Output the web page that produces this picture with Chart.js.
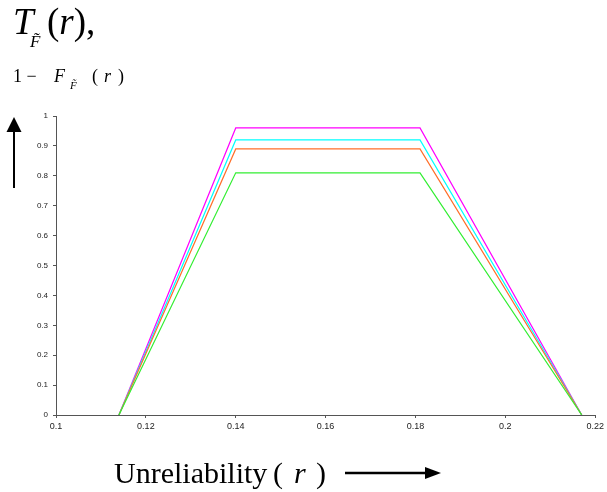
<!DOCTYPE html>
<html>
<head>
<meta charset="utf-8">
<script src="https://cdn.jsdelivr.net/npm/chart.js@4/dist/chart.umd.min.js"></script>
<style>
  html, body { margin: 0; padding: 0; background: #fff; }
  #wrap { width: 607px; height: 492px; position: relative; }
</style>
</head>
<body>
<div id="wrap"><canvas id="chart"></canvas></div>
<script>
// x positions of the trapezoid corners (unreliability r)
const rValues = [0.114, 0.14, 0.181, 0.217];
// membership heights for each curve
const magentaVals = [0, 0.96, 0.96, 0];
const cyanVals = [0, 0.92, 0.92, 0];
const orangeVals = [0, 0.89, 0.89, 0];
const greenVals = [0, 0.81, 0.81, 0];
const xTicks = [0.1, 0.12, 0.14, 0.16, 0.18, 0.2, 0.22];

function pts(vals){
    return rValues.map((r, i) => ({x: r, y: vals[i]}));
}

function series(vals, color){
    return {
        data: pts(vals),
        borderColor: color,
        borderWidth: 1.2,
        pointRadius: 0,
        fill: false,
        tension: 0
    };
}

const serif = '"Liberation Serif", "Times New Roman", serif';

function arrow(ctx, x1, y1, x2, y2, head, half){
    const a = Math.atan2(y2 - y1, x2 - x1);
    ctx.beginPath();
    ctx.moveTo(x1, y1);
    ctx.lineTo(x2 - Math.cos(a) * head, y2 - Math.sin(a) * head);
    ctx.stroke();
    ctx.beginPath();
    ctx.moveTo(x2, y2);
    ctx.lineTo(x2 - Math.cos(a) * head - Math.sin(a) * half, y2 - Math.sin(a) * head + Math.cos(a) * half);
    ctx.lineTo(x2 - Math.cos(a) * head + Math.sin(a) * half, y2 - Math.sin(a) * head - Math.cos(a) * half);
    ctx.closePath();
    ctx.fill();
}

const textPlugin = {
    id: 'labels',
    afterDraw(chart){
        const ctx = chart.ctx;
        ctx.save();
        ctx.fillStyle = '#000';
        ctx.strokeStyle = '#000';
        ctx.textBaseline = 'alphabetic';
        ctx.textAlign = 'left';

        // big title T_F~(r),
        ctx.font = 'italic 37px ' + serif;
        ctx.fillText('T', 13, 34);
        ctx.font = 'italic 17px ' + serif;
        ctx.fillText('F\u0303', 30, 47);
        ctx.font = '37px ' + serif;
        let x = 47;
        ctx.fillText('(', x, 34); x += ctx.measureText('(').width;
        ctx.font = 'italic 37px ' + serif;
        ctx.fillText('r', x, 34); x += ctx.measureText('r').width;
        ctx.font = '37px ' + serif;
        ctx.fillText('),', x, 34);

        // second line 1 - F_F~ (r)
        ctx.font = '18px ' + serif;
        ctx.fillText('1 \u2212', 13, 82);
        ctx.font = 'italic 18px ' + serif;
        ctx.fillText('F', 54, 82);
        ctx.font = 'italic 11px ' + serif;
        ctx.fillText('F\u0303', 70, 89);
        ctx.font = '18px ' + serif;
        ctx.fillText('(', 92, 82);
        ctx.font = 'italic 18px ' + serif;
        ctx.fillText('r', 104, 82);
        ctx.font = '18px ' + serif;
        ctx.fillText(')', 118, 82);

        // up arrow
        ctx.lineWidth = 2;
        arrow(ctx, 14, 188, 14, 117, 15, 7.5);

        // x axis title
        ctx.font = '30px ' + serif;
        ctx.fillText('Unreliability', 114, 483);
        ctx.fillText('(', 273, 483);
        ctx.font = 'italic 30px ' + serif;
        ctx.fillText('r', 294, 483);
        ctx.font = '30px ' + serif;
        ctx.fillText(')', 316, 483);

        // right arrow
        ctx.lineWidth = 2.5;
        arrow(ctx, 345, 473, 441, 473, 16, 6);
        ctx.restore();
    }
};

window.onload = () => {
    const context = document.getElementById('chart').getContext('2d');
    new Chart(context, {
        type: 'line',
        data: {
            datasets: [
                series(greenVals, '#33ee33'),
                series(orangeVals, '#ff6f2a'),
                series(cyanVals, '#00ffff'),
                series(magentaVals, '#ff00ff')
            ]
        },
        options: {
            responsive: true,
            maintainAspectRatio: false,
            animation: false,
            layout: {
                padding: {left: 30, right: 11, top: 116, bottom: 57}
            },
            plugins: {
                legend: {display: false},
                tooltip: {enabled: false}
            },
            scales: {
                x: {
                    type: 'linear',
                    min: 0.1,
                    max: 0.22,
                    afterBuildTicks: (scale) => {
                        scale.ticks = xTicks.map(v => ({value: v}));
                    },
                    afterFit: (scale) => { scale.height = 20; },
                    border: {display: true, color: '#555', width: 1},
                    grid: {display: true, drawOnChartArea: false, drawTicks: true, tickLength: 3, color: '#555'},
                    ticks: {
                        padding: 3,
                        maxRotation: 0,
                        font: {family: '"Liberation Sans", Arial, sans-serif', size: 9},
                        color: '#222',
                        callback: (v) => String(+(+v).toFixed(2))
                    }
                },
                y: {
                    min: 0,
                    max: 1,
                    afterFit: (scale) => { scale.width = 26; },
                    border: {display: true, color: '#555', width: 1},
                    grid: {display: true, drawOnChartArea: false, drawTicks: true, tickLength: 3, color: '#555'},
                    ticks: {
                        stepSize: 0.1,
                        padding: 5,
                        font: {family: '"Liberation Sans", Arial, sans-serif', size: 8},
                        color: '#222',
                        callback: (v) => String(+(+v).toFixed(1))
                    }
                }
            }
        },
        plugins: [textPlugin]
    });
};
</script>
</body>
</html>
